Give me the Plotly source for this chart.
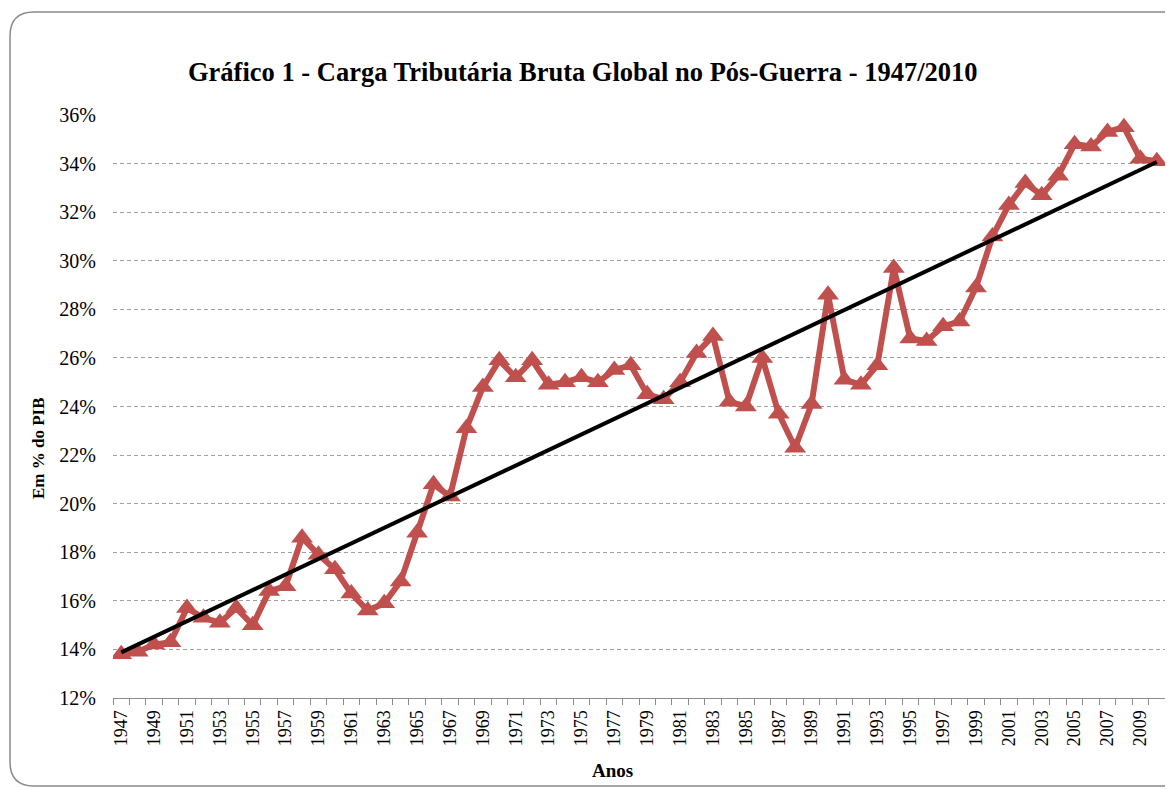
import numpy as np
import plotly.graph_objects as go

years = list(range(1947, 2011))
carga = [13.8, 13.9, 14.2, 14.3, 15.7, 15.3, 15.1, 15.7, 15.0, 16.4,
         16.6, 18.6, 17.9, 17.3, 16.3, 15.6, 15.9, 16.8, 18.8, 20.8,
         20.3, 23.1, 24.8, 25.9, 25.2, 25.9, 24.9, 25.0, 25.2, 25.0,
         25.5, 25.7, 24.5, 24.3, 25.0, 26.2, 26.9, 24.2, 24.0, 26.0,
         23.7, 22.3, 24.1, 28.6, 25.1, 24.9, 25.7, 29.7, 26.8, 26.7,
         27.3, 27.5, 28.9, 31.0, 32.3, 33.2, 32.7, 33.5, 34.8, 34.7,
         35.3, 35.5, 34.2, 34.1]
y_ticks = [12, 14, 16, 18, 20, 22, 24, 26, 28, 30, 32, 34, 36]
y_labels = [f"{v}%" for v in y_ticks]
x_labels = years[::2]

# linear trend (Excel-style trendline)
coef = np.polyfit(years, carga, 1)
trend = np.polyval(coef, years)

# page body has an 8px margin, so the figure is drawn 8px smaller
OFF = 8
W, H = 1173, 789
L, R, T, B = 113, 1165, 115, 698


def px(x):
    return (x - L) / (R - L)


def py(y):
    return (B - y) / (B - T)


fig = go.Figure()
fig.add_trace(go.Scatter(x = years, y = carga, mode = "lines+markers",
                         line = dict(color = "#C0504D", width = 6),
                         marker = dict(symbol = "triangle-up", size = 19, color = "#C0504D"),
                         showlegend = False))
fig.add_trace(go.Scatter(x = [years[0], years[-1]], y = [trend[0], trend[-1]], mode = "lines",
                         line = dict(color = "black", width = 4), showlegend = False))

serif = "Liberation Serif, Times New Roman, serif"

fig.update_xaxes(range = [1946.5, 2010.5], tickvals = x_labels, ticktext = [str(v) for v in x_labels],
                 tickangle = -90, ticks = "outside", ticklen = 4, tickcolor = "rgba(0,0,0,0)",
                 showgrid = False, zeroline = False,
                 showline = True, linecolor = "#8c8c8c", linewidth = 1.2,
                 tickfont = dict(family = serif, size = 18, color = "black"),
                 minor = dict(ticks = "outside", tick0 = 1946.5, dtick = 1, ticklen = 6,
                              tickcolor = "#8c8c8c", showgrid = False))
fig.update_yaxes(range = [12, 36], tickvals = y_ticks, ticktext = y_labels, showline = False,
                 showgrid = True, gridcolor = "#a0a0a0", griddash = "4px,3px", gridwidth = 1,
                 zeroline = False, ticks = "outside", ticklen = 12, tickcolor = "rgba(0,0,0,0)",
                 tickfont = dict(family = serif, size = 20, color = "black"))

# rounded chart border
r = 24
x0, y0, y1, x1 = 10, 12, 786, 1190
path = (f"M {px(x1)},{py(y0)} L {px(x0 + r)},{py(y0)} "
        f"Q {px(x0)},{py(y0)} {px(x0)},{py(y0 + r)} "
        f"L {px(x0)},{py(y1 - r)} Q {px(x0)},{py(y1)} {px(x0 + r)},{py(y1)} "
        f"L {px(x1)},{py(y1)}")
fig.add_shape(type = "path", path = path, xref = "paper", yref = "paper",
              line = dict(color = "#8a8a8a", width = 1.5))

fig.add_annotation(text = "<b>Gráfico 1 - Carga Tributária Bruta Global no Pós-Guerra - 1947/2010</b>",
                   x = px(583), y = py(72), xref = "paper", yref = "paper", showarrow = False,
                   xanchor = "center", yanchor = "middle",
                   font = dict(family = serif, size = 26.5, color = "black"))
fig.add_annotation(text = "<b>Em % do PIB</b>", textangle = -90,
                   x = px(38), y = py(448), xref = "paper", yref = "paper", showarrow = False,
                   xanchor = "center", yanchor = "middle",
                   font = dict(family = serif, size = 17, color = "black"))
fig.add_annotation(text = "<b>Anos</b>",
                   x = px(612), y = py(770), xref = "paper", yref = "paper", showarrow = False,
                   xanchor = "center", yanchor = "middle",
                   font = dict(family = serif, size = 19, color = "black"))

fig.update_layout(width = W - OFF, height = H - OFF,
                  margin = dict(l = L - OFF, r = W - R, t = T - OFF, b = H - B),
                  plot_bgcolor = "white", paper_bgcolor = "white")

fig.write_html("out.html")
